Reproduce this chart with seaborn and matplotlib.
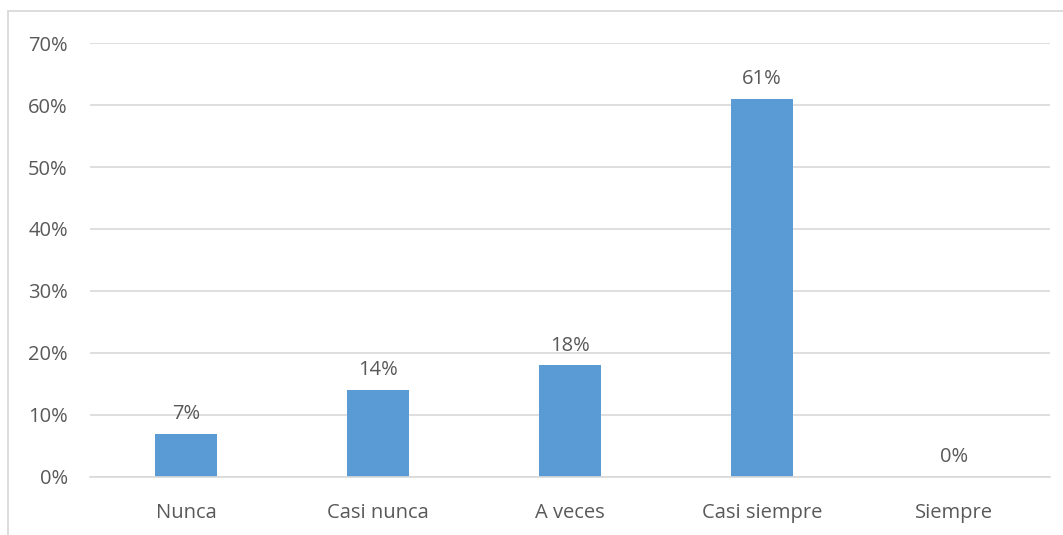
import matplotlib
matplotlib.use("Agg")
import matplotlib.pyplot as plt
import seaborn as sns
import pandas as pd
from matplotlib.patches import Rectangle
from matplotlib.ticker import FuncFormatter

# Chart data
categories = ["Nunca", "Casi nunca", "A veces", "Casi siempre", "Siempre"]
values = [0.07, 0.14, 0.18, 0.61, 0.00]
y_ticks = [0.0, 0.1, 0.2, 0.3, 0.4, 0.5, 0.6, 0.7]

sns.set_style("white")
plt.rcParams['font.family'] = ['Open Sans', 'DejaVu Sans']

TEXT = "#595959"
GRID = "#D9D9D9"
BAR = "#5B9BD5"
FS = 14.5

df = pd.DataFrame({"cat": categories, "val": values})

fig = plt.figure(figsize=(10.63, 5.35), dpi=100)
ax = fig.add_axes([90 / 1063, 58 / 535, 960 / 1063, 434 / 535])

sns.barplot(data=df, x="cat", y="val", color=BAR, width=0.32, saturation=1,
            linewidth=0, ax=ax)

ax.set_ylim(0, 0.7)
ax.set_yticks(y_ticks)
ax.yaxis.set_major_formatter(FuncFormatter(lambda v, p: f"{v * 100:.0f}%"))
ax.set_xlim(-0.5, len(categories) - 0.5)
ax.grid(axis="y", color=GRID, linewidth=1.2)
ax.set_axisbelow(True)
for s in ["top", "right", "left"]:
    ax.spines[s].set_visible(False)
ax.spines["bottom"].set_color(GRID)
ax.spines["bottom"].set_linewidth(1.2)
ax.tick_params(axis="both", length=0, labelsize=FS, labelcolor=TEXT)
ax.tick_params(axis="y", pad=16)
ax.tick_params(axis="x", pad=19)
ax.set_xlabel("")
ax.set_ylabel("")

# value labels above bars
for i, v in enumerate(values):
    ax.annotate(f"{v * 100:.0f}%", (i, v), xytext=(0, 7), textcoords="offset points",
                ha="center", va="bottom", fontsize=FS, color=TEXT)

# chart border
fig.patches.append(Rectangle((8 / 1063, -0.1), 1.2, 1 - 11 / 535 + 0.1,
                             transform=fig.transFigure, fill=False,
                             edgecolor=GRID, linewidth=1.3))

fig.savefig("out.png", dpi=100)
